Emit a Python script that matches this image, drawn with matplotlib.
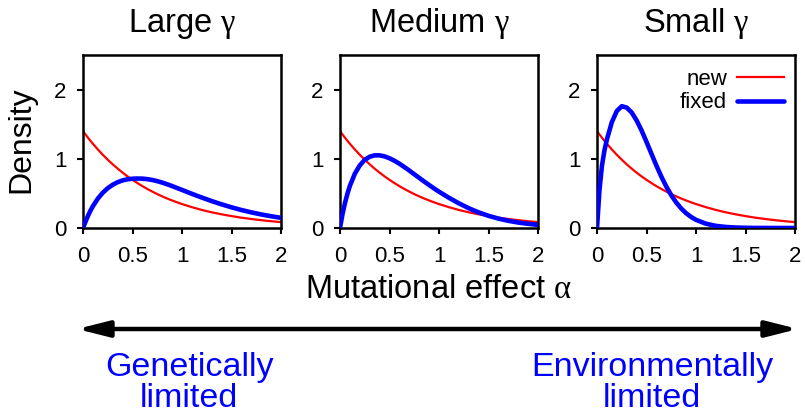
import matplotlib
matplotlib.use("Agg")
import matplotlib.pyplot as plt
from matplotlib.patches import ArrowStyle

plt.rcParams['font.family'] = ['Liberation Sans', 'DejaVu Sans']
plt.rcParams['mathtext.fontset'] = 'custom'
plt.rcParams['mathtext.rm'] = 'Liberation Sans'
plt.rcParams['mathtext.it'] = 'Liberation Serif'

# Mutational effect grid (alpha)
alpha = [0, 0.025, 0.05, 0.075, 0.1, 0.15, 0.2, 0.25, 0.3, 0.35, 0.4, 0.45,
         0.5, 0.55, 0.6, 0.65, 0.7, 0.75, 0.8, 0.85, 0.9, 0.95, 1.0,
         1.1, 1.2, 1.3, 1.4, 1.5, 1.6, 1.7, 1.8, 1.9, 2.0]

# Density of new mutations (same in every panel)
new_density = [1.400, 1.352, 1.305, 1.260, 1.217, 1.135, 1.058, 0.987, 0.920, 0.858,
               0.800, 0.746, 0.696, 0.649, 0.605, 0.564, 0.526, 0.490, 0.457, 0.426,
               0.398, 0.371, 0.346, 0.301, 0.261, 0.227, 0.198, 0.172, 0.149, 0.130,
               0.113, 0.098, 0.085]

# Density of fixed mutations for each gamma
fixed_large = [0, 0.090, 0.175, 0.250, 0.315, 0.425, 0.510, 0.575, 0.625, 0.662,
               0.688, 0.704, 0.712, 0.715, 0.713, 0.706, 0.694, 0.677, 0.656, 0.632,
               0.606, 0.578, 0.550, 0.494, 0.440, 0.389, 0.342, 0.299, 0.260, 0.226,
               0.196, 0.170, 0.147]
fixed_medium = [0, 0.200, 0.360, 0.495, 0.610, 0.785, 0.905, 0.985, 1.030, 1.050,
                1.050, 1.035, 1.008, 0.972, 0.929, 0.881, 0.830, 0.777, 0.724, 0.672,
                0.621, 0.572, 0.525, 0.437, 0.357, 0.286, 0.226, 0.176, 0.136, 0.104,
                0.079, 0.060, 0.045]
fixed_small = [0, 0.55, 0.90, 1.12, 1.28, 1.53, 1.69, 1.76, 1.74, 1.67,
               1.555, 1.41, 1.245, 1.072, 0.902, 0.742, 0.599, 0.474, 0.369, 0.283,
               0.214, 0.160, 0.118, 0.062, 0.031, 0.015, 0.007, 0.003, 0.001, 0.0005,
               0, 0, 0]

titles = [r'Large $\gamma$', r'Medium $\gamma$', r'Small $\gamma$']
fixed_series = [fixed_large, fixed_medium, fixed_small]
x_ticks = [0, 0.5, 1, 1.5, 2]
x_tick_labels = ['0', '0.5', '1', '1.5', '2']
y_ticks = [0, 1, 2]
y_tick_labels = ['0', '1', '2']

W, H = 805, 413
fig = plt.figure(figsize=(W / 100, H / 100), dpi=100)

lefts = [83, 340, 597]
ax_w, ax_top, ax_bot = 198, 55, 228

axes = []
for i, left in enumerate(lefts):
    ax = fig.add_axes([left / W, 1 - ax_bot / H, ax_w / W, (ax_bot - ax_top) / H])
    ax.plot(alpha, new_density, color='#ff0000', lw=1.6, label='new',
            solid_joinstyle='round', zorder=2)
    ax.plot(alpha, fixed_series[i], color='#0000ff', lw=3.3, label='fixed',
            solid_joinstyle='round', solid_capstyle='round', zorder=3)
    ax.set_xlim(0, 2)
    ax.set_ylim(0, 2.5)
    ax.set_xticks(x_ticks)
    ax.set_xticklabels(x_tick_labels)
    ax.set_yticks(y_ticks)
    ax.set_yticklabels(y_tick_labels)
    ax.tick_params(direction='out', length=4.5, width=1.5, labelsize=16)
    ax.tick_params(axis='x', pad=8.5)
    ax.tick_params(axis='y', pad=7.5)
    for sp in ax.spines.values():
        sp.set_linewidth(1.8)
    ax.text(0.5, 1.0 + 23 / (ax_bot - ax_top), titles[i], transform=ax.transAxes,
            ha='center', va='baseline', fontsize=23.5)
    axes.append(ax)

axes[2].legend(loc='upper right', bbox_to_anchor=(1.0, 1.0 - 3 / (ax_bot - ax_top)),
               frameon=False, markerfirst=False, fontsize=16,
               handlelength=2.1, handletextpad=0.45, labelspacing=0.1,
               borderaxespad=0.35, borderpad=0.15)

fig.text(21 / W, 1 - 140 / H, 'Density', rotation=90, ha='center', va='center',
         fontsize=23)
fig.text(438 / W, 1 - 298 / H, r'Mutational effect $\alpha$', ha='center',
         va='baseline', fontsize=23.5)

# Double-headed arrow spanning the gamma axis
arrow_ax = fig.add_axes([0, 0, 1, 1])
arrow_ax.set_xlim(0, W)
arrow_ax.set_ylim(H, 0)
arrow_ax.axis('off')
arrow_ax.annotate('', xy=(798, 329), xytext=(77, 329), xycoords='data',
                  arrowprops=dict(arrowstyle=ArrowStyle('<|-|>', head_length=1.9,
                                                        head_width=0.48),
                                  mutation_scale=10, lw=3.2, color='black',
                                  shrinkA=0, shrinkB=0))

blue_text = '#0000ff'
fig.text(189 / W, 1 - 376 / H, 'Genetically', ha='center', va='baseline',
         fontsize=24.5, color=blue_text)
fig.text(189 / W, 1 - 407 / H, 'limited', ha='center', va='baseline',
         fontsize=24.5, color=blue_text)
fig.text(652 / W, 1 - 376 / H, 'Environmentally', ha='center', va='baseline',
         fontsize=24.5, color=blue_text)
fig.text(652 / W, 1 - 407 / H, 'limited', ha='center', va='baseline',
         fontsize=24.5, color=blue_text)

fig.savefig('out.png', dpi=100)
